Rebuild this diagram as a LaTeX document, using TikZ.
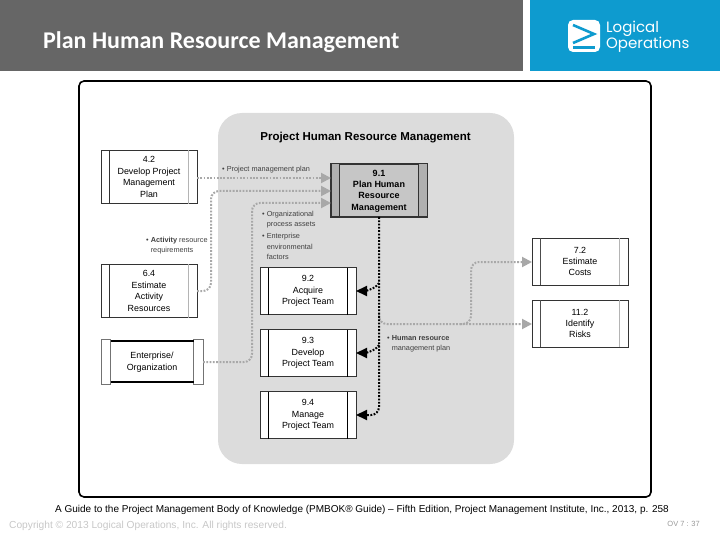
\documentclass[tikz,border=0pt]{standalone}
\usepackage{fontspec}
\setmainfont{Liberation Sans}
\newfontfamily\titlefont{Carlito}
\newfontfamily\logofont{Poppins}
\usetikzlibrary{arrows.meta}
\definecolor{headgray}{HTML}{666666}
\definecolor{logoblue}{HTML}{0E9BCF}
\definecolor{panelgray}{HTML}{DCDCDC}
\definecolor{flowgray}{HTML}{A8A8A8}
\definecolor{barlight}{HTML}{B4B4B4}
\definecolor{planfill}{HTML}{C6C6C6}
\definecolor{plansides}{HTML}{B0B0B0}
\tikzset{
  procbox/.style={draw=black!80,line width=0.9pt,fill=white,minimum width=96pt,inner sep=0pt,outer sep=0pt,align=center,font=\fontsize{8.9}{11.4}\selectfont},
  tallbox/.style={procbox,minimum height=47pt},
  inputbox/.style={procbox,minimum height=53.5pt},
  planbox/.style={procbox,minimum height=53pt,fill=planfill,line width=1.1pt,font=\fontsize{9}{11.4}\selectfont\bfseries},
  notetext/.style={inner sep=0pt,anchor=west,align=left,text=black!75,font=\fontsize{7.3}{10.3}\selectfont},
  grayflow/.style={draw=flowgray,line width=2pt,dash pattern=on 1.8pt off 1.5pt,-{Triangle[length=10pt,width=10pt,fill=flowgray]}},
  blackflow/.style={draw=black,line width=2pt,dash pattern=on 1.8pt off 1.5pt,-{Triangle[length=11pt,width=10pt,fill=black]}}
}
\newcommand{\procbars}[4]{%
  \draw[#3,line width=1pt] ([xshift=#2pt]#1.north west) -- ([xshift=#2pt]#1.south west);
  \draw[#4,line width=1pt] ([xshift=-#2pt]#1.north east) -- ([xshift=-#2pt]#1.south east);
}
\begin{document}
\begin{tikzpicture}[x=1pt,y=-1pt]
      \useasboundingbox (0,0) rectangle (720,540);
      \fill[headgray] (0,0) rectangle (523,71);
      \fill[logoblue] (530,0) rectangle (720,71);
      \fill[white,rounded corners=5pt] (568,20) rectangle (600,52);
      \draw[logoblue,line width=2.6pt] (573,25) -- (594,34) -- (573,43);
      \draw[logoblue,line width=2.6pt] (573,47.5) -- (595,47.5);
      \draw[black,line width=1.6pt,rounded corners=5pt] (79,81) rectangle (651,497);
      \fill[panelgray,rounded corners=24pt] (218,113) rectangle (514,464);
      \fill[white] (101,339) rectangle (110.5,384);
      \fill[white] (193.5,339) rectangle (203,384);
      \fill[white] (110.5,341) rectangle (193.5,382);
      \draw[black!55,line width=0.7pt] (101,339) rectangle (110.5,384);
      \draw[black!55,line width=0.7pt] (193.5,339) rectangle (203,384);
      \draw[black,line width=1.1pt] (110.5,341) -- (193.5,341);
      \draw[black,line width=1.1pt] (110.5,382) -- (193.5,382);
      \draw
        (43,42) node[anchor=west,inner sep=0pt,text=white,font=\fontsize{24}{28}\selectfont\titlefont\bfseries] (title){Plan Human Resource Management}
        (606,29) node[anchor=west,inner sep=0pt,text=white,font=\fontsize{15}{18}\selectfont\logofont] (logical){Logical}
        (606,45) node[anchor=west,inner sep=0pt,text=white,font=\fontsize{15}{18}\selectfont\logofont] (operations){Operations}
        (365.5,137.5) node[inner sep=0pt,font=\fontsize{11.5}{13}\selectfont\bfseries] (panelhead){Project Human Resource Management}
        (149,177) node[inputbox] (42){4.2\\Develop Project\\Management\\Plan}
        (149,291) node[inputbox] (64){6.4\\Estimate\\Activity\\Resources}
        (152,362) node[minimum width=102pt,minimum height=46pt,inner sep=0pt,outer sep=0pt,align=center,font=\fontsize{8.9}{11.4}\selectfont] (ent){Enterprise/\\Organization}
        (379,190.5) node[planbox] (91){}
        (308,291) node[tallbox] (92){9.2\\Acquire\\Project Team}
        (308,353) node[tallbox] (93){9.3\\Develop\\Project Team}
        (308,415) node[tallbox] (94){9.4\\Manage\\Project Team}
        (580,261.5) node[tallbox] (72){7.2\\Estimate\\Costs}
        (580,323.5) node[tallbox] (112){11.2\\Identify\\Risks}
        (222,169.5) node[notetext] (note42){\textbullet\ Project management plan}
        (146,245.5) node[notetext] (note64){\textbullet\ \textbf{Activity} resource\\\phantom{\textbullet\ }requirements}
        (262,219.5) node[notetext] (noteorg){\textbullet\ Organizational\\\phantom{\textbullet\ }process assets}
        (262,246.5) node[notetext] (noteenv){\textbullet\ Enterprise\\\phantom{\textbullet\ }environmental\\\phantom{\textbullet\ }factors}
        (387,343.5) node[notetext] (notehr){\textbullet\ \textbf{Human resource}\\\phantom{\textbullet\ }management plan}
        (362,509.5) node[inner sep=0pt,font=\fontsize{10}{12}\selectfont] (source){A Guide to the Project Management Body of Knowledge (PMBOK® Guide) -- Fifth Edition, Project Management Institute, Inc., 2013, p. 258}
        (9,525.5) node[anchor=west,inner sep=0pt,text=black!22,font=\fontsize{10.2}{12}\selectfont] (copyright){Copyright © 2013 Logical Operations, Inc. All rights reserved.}
        (700,523.5) node[anchor=east,inner sep=0pt,text=black!40,font=\fontsize{7.5}{9}\selectfont] (slideno){OV 7 : 37};
      \fill[plansides] (331.5,164.5) rectangle (339.5,216.5);
      \fill[plansides] (418.5,164.5) rectangle (426.5,216.5);
      \node[align=center,inner sep=0pt,font=\fontsize{9}{11.4}\selectfont\bfseries] (plantext) at (379,191) {9.1\\Plan Human\\Resource\\Management};
      \coordinate (j64) at (211,191);
      \coordinate (jent) at (252,203);
      \coordinate (b92) at (379,283);
      \coordinate (b93) at (379,345);
      \coordinate (bhr) at (379,315);
      \coordinate (b72) at (460,324);
      \procbars{42}{8.5}{black!80}{barlight}
      \procbars{64}{8.5}{black!80}{barlight}
      \procbars{91}{8.5}{black!80}{black!80}
      \procbars{92}{8.5}{black}{black}
      \procbars{93}{8.5}{black}{black}
      \procbars{94}{8.5}{black}{black}
      \procbars{72}{8.5}{black!70}{barlight}
      \procbars{112}{8.5}{black!70}{barlight}
      \begin{scope}[rounded corners=8pt]
        \draw[grayflow] (42.east |- 0,178) -- (91.west |- 0,178);
        \draw[grayflow] (64.east) -- (j64 |- 64.east) -- (j64) -- (91.west |- j64);
        \draw[grayflow] (ent.east) -- (jent |- ent.east) -- (jent) -- (91.west |- jent);
        \draw[grayflow] (bhr) -- (379,324) -- (112.west |- 0,324);
        \draw[grayflow] (b72) -- (471,324) -- (471,262) -- (72.west |- 0,262);
        \draw[blackflow] (91.south) -- (379,415) -- (94.east);
      \end{scope}
      \draw[blackflow] (b92) .. controls +(-3,6) and +(8,0) .. (92.east);
      \draw[blackflow] (b93) .. controls +(-3,6) and +(8,0) .. (93.east);
    \end{tikzpicture}
\end{document}
